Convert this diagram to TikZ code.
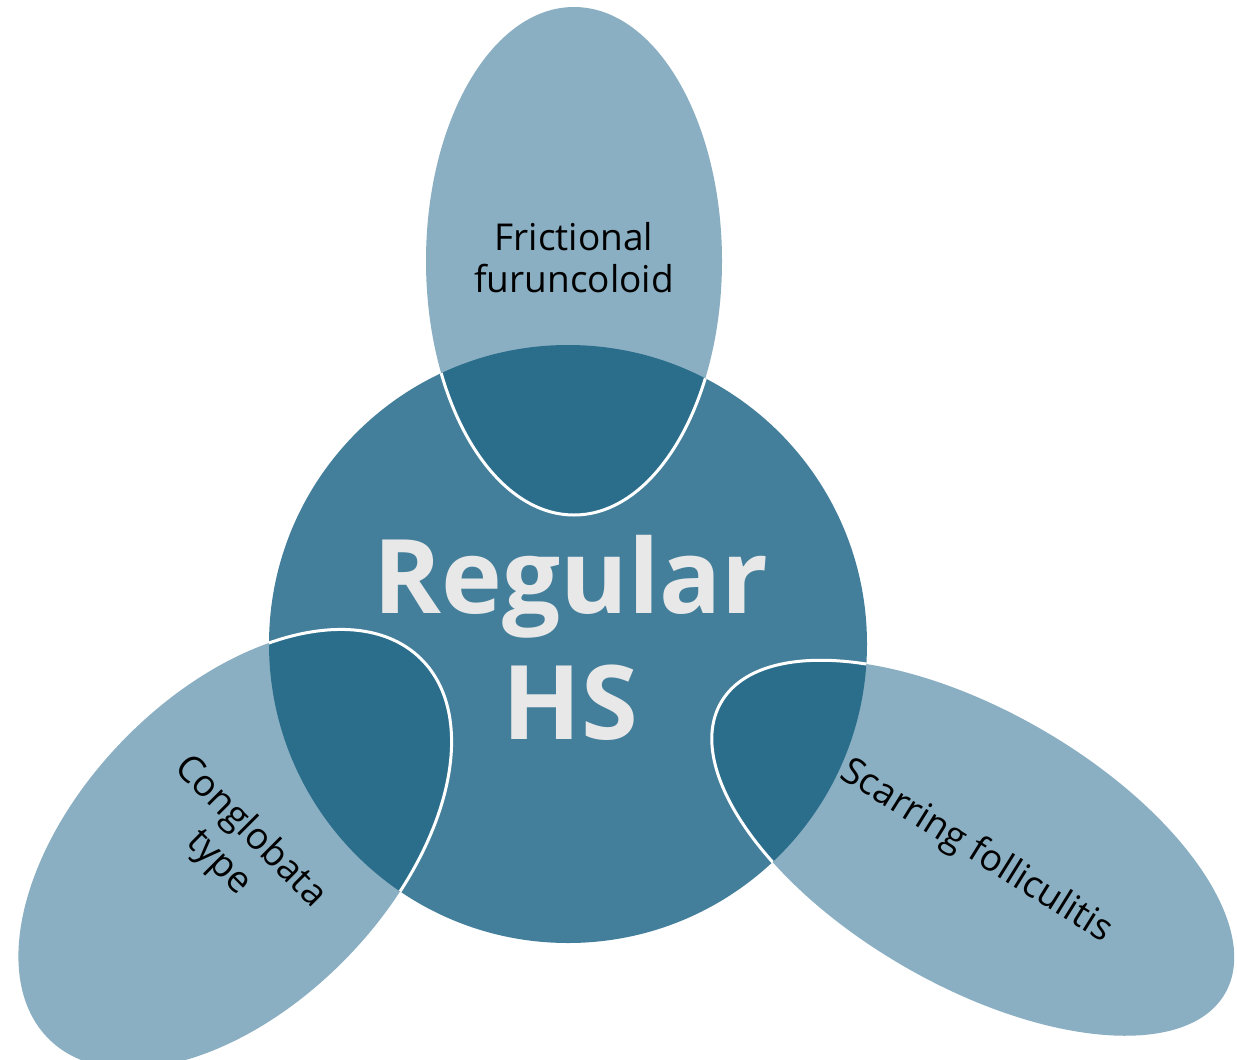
\documentclass[tikz,border=0pt]{standalone}
\usepackage{fontspec}
\setmainfont{Open Sans}
\definecolor{hub}{HTML}{437F9B}
\definecolor{petal}{HTML}{8BAFC2}
\definecolor{overlap}{HTML}{2B6E8C}
\definecolor{hubtext}{HTML}{E8E8E8}
\newcommand\petalTop[1]{\path[#1] (574,261) ellipse [x radius=148, y radius=254];}
\newcommand\petalLeft[1]{\path[#1, rotate around={45.8:(235,849)}] (235,849) ellipse [x radius=266, y radius=156];}
\newcommand\petalRight[1]{\path[#1, rotate around={-30:(973,848)}] (973,848) ellipse [x radius=291, y radius=137];}
\newcommand\hubCircle[1]{\path[#1] (568,644) circle [radius=299];}
\begin{document}
\begin{tikzpicture}[x=1pt,y=-1pt,
  bigtext/.style={font=\bfseries\fontsize{103}{124}\selectfont, text=hubtext, anchor=base, inner sep=0pt},
  label/.style={font=\fontsize{37}{44}\selectfont, text=black, anchor=base, inner sep=0pt}]
\useasboundingbox (0,0) rectangle (1237,1060);
% hub circle
\hubCircle{fill=hub}
% petals
\petalTop{fill=petal}
\petalLeft{fill=petal}
\petalRight{fill=petal}
% overlaps and white outlines inside the hub
\begin{scope}
  \clip (568,644) circle [radius=299];
  \petalTop{fill=overlap}
  \petalLeft{fill=overlap}
  \petalRight{fill=overlap}
  \petalTop{draw=white, line width=3pt}
  \petalLeft{draw=white, line width=3pt}
  \petalRight{draw=white, line width=3pt}
\end{scope}
% texts
\node[bigtext] (reg) at (571,613) {Regular};
\node[bigtext] (hs) at (570,739) {HS};
\node[label] (fric1) at (574,250) {Frictional};
\node[label] (fric2) at (574,292) {furuncoloid};
\node[label, rotate=-45] (cong1) at (243,839) {Conglobata};
\node[label, rotate=-45] (cong2) at (212,870) {type};
\node[label, rotate=-32] (scar) at (971,860) {Scarring folliculitis};
\end{tikzpicture}
\end{document}
